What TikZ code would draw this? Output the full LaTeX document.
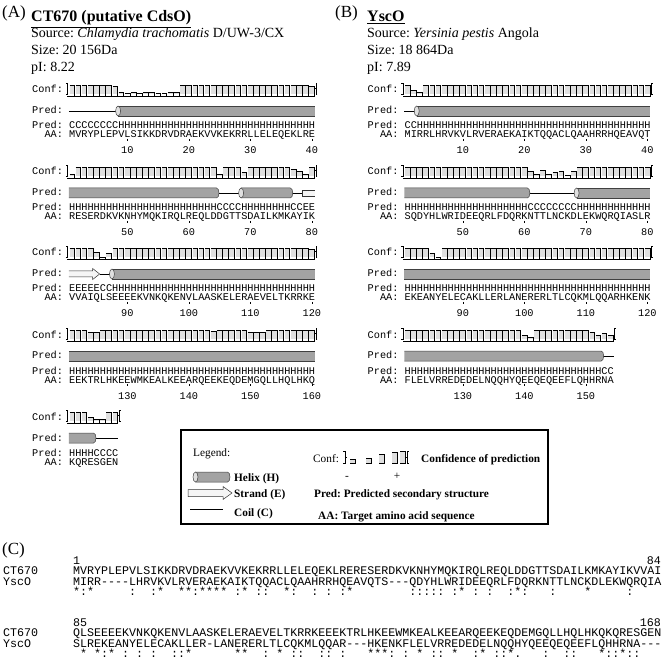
\documentclass[tikz,border=0pt]{standalone}
\usepackage{fontspec}
\setmainfont{Liberation Serif}
\setmonofont{Liberation Mono}
\usetikzlibrary{positioning}

\newcommand\seqfont{\ttfamily\fontsize{10.25}{12}\selectfont}
\newcommand\alnfont{\ttfamily\fontsize{11.67}{13}\selectfont}
\def\cw{6.15}
\newcommand\rep[2]{\foreach\repi in {1,...,#1}{#2}}

% helix as a cylinder: x from, x to, y, left cap (0/1), rounded right end (0/1)
\newcommand\cylinder[5]{%
  \ifnum#5=1
    \fill[helixbody] (#1,#3-5) -- (#2,#3-5) arc[start angle=90,end angle=-90,x radius=2.5pt,y radius=5pt] -- (#1,#3+5) -- cycle;
    \draw[helixedge] (#1,#3-5) -- (#2,#3-5) arc[start angle=90,end angle=-90,x radius=2.5pt,y radius=5pt] -- (#1,#3+5);
  \else
    \fill[helixbody] (#1,#3-5) rectangle (#2,#3+5);
    \draw[helixedge] (#1,#3-5) -- (#2,#3-5) (#1,#3+5) -- (#2,#3+5);
  \fi
  \ifnum#4=1 \filldraw[helixcap] (#1,#3) ellipse[x radius=2.5pt,y radius=5pt];\fi}

% pieces along the prediction line \gy of a block that starts at \bx (residue units)
\newcommand\helix[2]{%
  \pgfmathsetmacro\xa{\bx+(#1-1)*\cw}\pgfmathsetmacro\xb{\bx+#2*\cw}%
  \pgfmathtruncatemacro\hcap{#1>1}\pgfmathtruncatemacro\hend{#2<40}%
  \cylinder{\xa}{\xb}{\gy}{\hcap}{\hend}}
\newcommand\coil[2]{\draw[coilline] (\bx+#1*\cw-\cw,\gy) -- (\bx+#2*\cw,\gy);}
\newcommand\strandin[2]{%
  \pgfmathsetmacro\xa{\bx+(#1-1)*\cw}\pgfmathsetmacro\xb{\bx+#2*\cw}%
  \filldraw[strandbody] (\xa,\gy-3) -- (\xb-7,\gy-3) -- (\xb-7,\gy-5.5) -- (\xb,\gy) -- (\xb-7,\gy+5.5) -- (\xb-7,\gy+3) -- (\xa,\gy+3);}
\newcommand\strandout[2]{%
  \pgfmathsetmacro\xa{\bx+(#1-1)*\cw}\pgfmathsetmacro\xb{\bx+#2*\cw}%
  \filldraw[strandbody] (\xb,\gy-3) -- (\xa,\gy-3) -- (\xa,\gy+3) -- (\xb,\gy+3);}

% one confidence bar: left x, bottom y, width, height
\newcommand\confbar[4]{%
  \fill[confbarfill] (#1,#2) rectangle ++(#3,-#4);
  \draw[confbaredge] (#1,#2-#4) -- ++(#3,0) -- ++(0,#4) -- ++(-#3,0);}

% confidence bars, one digit per residue
\newcount\confpos
\def\confloop#1{\ifx\relax#1\else
  \global\advance\confpos by 1
  \confbar{\bx+\the\confpos*\cw-\cw+0.6}{\cy}{\cw-1.2}{1.1*#1+1.1}%
  \expandafter\confloop\fi}
\newcommand\confbars[1]{%
  \global\confpos=0
  \confloop#1\relax
  \draw[confmark] (\bx-3,\cy) -- (\bx-1.5,\cy) -- (\bx-1.5,\cy-11) -- (\bx-3,\cy-11) (\bx-1.5,\cy-5.5) -- (\bx-0.5,\cy-5.5);
  \pgfmathsetmacro\xe{\bx+\the\confpos*\cw}%
  \draw[confmark] (\xe+2.5,\cy) -- (\xe+1,\cy) -- (\xe+1,\cy-11) -- (\xe+2.5,\cy-11) (\xe+1,\cy-5.5) -- (\xe+0.2,\cy-5.5);}

% one block: name, label x, AA row y, confidence, prediction, sequence, pieces
\newcommand\seqblock[7]{%
  \pgfmathsetmacro\bx{#2+6*\cw}%
  \pgfmathsetmacro\gy{#3-24}%
  \pgfmathsetmacro\cy{#3-41}%
  \node[seqtext] (#1conf) at (#2,#3-42) {Conf:};
  \confbars{#4}%
  \node[seqtext] (#1lbl) at (#2,#3-21) {Pred:};
  #7%
  \node[seqtext] (#1pred) at (#2,#3-6) {Pred: #5};
  \node[seqtext] (#1aa) at (#2,#3+3) {~~AA: #6};}

% ruler below a block: name, label x, AA row y, offset, numbers
\newcommand\blocknums[5]{%
  \pgfmathsetmacro\bx{#2+6*\cw}%
  \foreach \resno in {#5}{%
    \pgfmathsetmacro\tx{\bx+(\resno-#4-0.5)*\cw}%
    \draw[tickmark] (\tx,#3+4) -- (\tx,#3+6);
    \node[seqtext, anchor=base] (#1n\resno) at (\tx,#3+19) {\resno};
  }}

\begin{document}
\frenchspacing
\begin{tikzpicture}[
        x=1pt, y=-1pt,
        seqtext/.style={font=\seqfont, inner sep=0pt, anchor=base west},
        alntext/.style={font=\alnfont, inner sep=0pt, anchor=base west},
        tagtext/.style={font=\fontsize{17}{20}\selectfont, inner sep=0pt, anchor=base west},
        titletext/.style={font=\fontsize{16}{19}\selectfont\bfseries, inner sep=0pt, anchor=base west},
        headtext/.style={font=\fontsize{14}{17}\selectfont, inner sep=0pt, anchor=base west},
        legnorm/.style={font=\fontsize{11.3}{13}\selectfont, inner sep=0pt, anchor=base west},
        legtext/.style={font=\fontsize{11.3}{13}\selectfont\bfseries, inner sep=0pt, anchor=base west},
        confbarfill/.style={fill=gray!25},
        confbaredge/.style={draw=black, line width=0.55pt},
        confmark/.style={draw=black, line width=0.5pt},
        helixbody/.style={fill=black!36},
        helixedge/.style={draw=black!75, line width=0.5pt},
        helixcap/.style={fill=black!12, draw=black!75, line width=0.5pt},
        coilline/.style={draw=black, line width=0.6pt},
        strandbody/.style={fill=gray!8, draw=black!80, line width=0.5pt},
        tickmark/.style={draw=black, line width=0.6pt},
        legendbox/.style={draw=black, line width=1.2pt},
    ]
        \useasboundingbox (0,0) rectangle (664,660);

        % Panel A header
        \node[tagtext] (tagA) at (2,18) {(A)};
        \node[titletext] (titleA) at (31,22) {\underline{CT670 (putative CdsO)}};
        \node[headtext] (srcA) at (31,38) {Source: \textit{Chlamydia trachomatis} D/UW-3/CX};
        \node[headtext] (sizeA) at (31,55) {Size: 20 156Da};
        \node[headtext] (piA) at (31,72) {pI: 8.22};

        % Panel A blocks
        \seqblock{A1}{32}{135}{99999998 3232332233 9999999999 9999999999 98}{\rep{8}{C}\rep{32}{H}}{MVRYPLEPVLSIKKDRVDRAEKVVKEKRRLLELEQEKLRE}{\coil{1}{8}\helix{9}{40}}
        \blocknums{A1}{32}{135}{0}{10,20,30,40}
        \seqblock{A2}{32}{217}{3 9999999999 9999999999 999 3 999 4 9999999 753 9}{\rep{24}{H}\rep{4}{C}\rep{8}{H}CCEE}{RESERDKVKNHYMQKIRQLREQLDDGTTSDAILKMKAYIK}{\coil{25}{28}\coil{37}{38}\helix{1}{24}\helix{29}{36}\strandout{39}{40}}
        \blocknums{A2}{32}{217}{40}{50,60,70,80}
        \seqblock{A3}{32}{298}{9999 5 1 4 9999999999 9999999999 9999999999 998}{EEEEECC\rep{33}{H}}{VVAIQLSEEEEKVNKQKENVLAASKELERAEVELTKRRKE}{\coil{6}{7}\strandin{1}{5}\helix{8}{40}}
        \blocknums{A3}{32}{298}{80}{90,100,110,120}
        \seqblock{A4}{32}{380}{99977 9999999999 99999999 8 99999 777 99999999}{\rep{40}{H}}{EEKTRLHKEEWMKEALKEEARQEEKEQDEMGQLLHQLHKQ}{\helix{1}{40}}
        \blocknums{A4}{32}{380}{120}{130,140,150,160}
        \seqblock{A5}{32}{462}{99943399}{HHHHCCCC}{KQRESGEN}{\coil{5}{8}\helix{1}{4}}

        % Panel B header
        \node[tagtext] (tagB) at (335,18) {(B)};
        \node[titletext] (titleB) at (367,22) {\underline{YscO}};
        \node[headtext] (srcB) at (367,38) {Source: \textit{Yersinia pestis} Angola};
        \node[headtext] (sizeB) at (367,55) {Size: 18 864Da};
        \node[headtext] (piB) at (367,72) {pI: 7.89};

        % Panel B blocks
        \seqblock{B1}{367.5}{135}{9 43 9999999999 9999999999 9999999999 9999999}{CC\rep{38}{H}}{MIRRLHRVKVLRVERAEKAIKTQQACLQAAHRRHQEAVQT}{\coil{1}{2}\helix{3}{40}}
        \blocknums{B1}{367.5}{135}{0}{10,20,30,40}
        \seqblock{B2}{367.5}{217}{9999999999 9999999999 53634525 9999999999 99}{\rep{20}{H}\rep{8}{C}\rep{12}{H}}{SQDYHLWRIDEEQRLFDQRKNTTLNCKDLEKWQRQIASLR}{\coil{21}{28}\helix{1}{20}\helix{29}{40}}
        \blocknums{B2}{367.5}{217}{40}{50,60,70,80}
        \seqblock{B3}{367.5}{298}{9999 4 1 9999999999 9999999999 9999999999 9999}{\rep{40}{H}}{EKEANYELECAKLLERLANERERLTLCQKMLQQARHKENK}{\helix{1}{40}}
        \blocknums{B3}{367.5}{298}{80}{90,100,110,120}
        \seqblock{B4}{367.5}{380}{9999999999 999999999 43 999999999 7464}{\rep{32}{H}CC}{FLELVRREDEDELNQQHYQEEQEQEEFLQHHRNA}{\coil{33}{34}\helix{1}{32}}
        \blocknums{B4}{367.5}{380}{120}{130,140,150}

        % Legend
        \draw[legendbox] (181,430) rectangle (548,524);
        \node[legnorm] (legtitle) at (193,456) {Legend:};
        \node[legnorm] (legconf) at (313,462) {Conf:};
        \foreach \x/\h in {350/4,366/5,379/9,392/11,400/12}
            \confbar{\x}{463}{5}{\h}
        \draw[confmark] (343,463) -- (345.5,463) -- (345.5,451) -- (343,451) (345.5,457) -- (347,457);
        \draw[confmark] (409,463) -- (407,463) -- (407,451) -- (409,451) (407,457) -- (406,457);
        \node[legtext] (legconfd) at (421,462) {Confidence of prediction};
        \node[legnorm, anchor=base] (legminus) at (347,479) {-};
        \node[legnorm, anchor=base] (legplus) at (397,479) {+};
        \cylinder{195.5}{227.5}{477}{1}{1}
        \node[legtext] (leghelix) at (234,481) {Helix (H)};
        \filldraw[strandbody] (188,489.5) -- (223,489.5) -- (223,486.5) -- (232,493) -- (223,499.5) -- (223,496.5) -- (188,496.5) -- cycle;
        \node[legtext] (legstrand) at (234,497) {Strand (E)};
        \draw[coilline] (190,509) -- (223,509);
        \node[legtext] (legcoil) at (234,516) {Coil (C)};
        \node[legtext] (legpred) at (314,497) {Pred: Predicted secondary structure};
        \node[legtext] (legaa) at (318,519) {AA: Target amino acid sequence};

        % Panel C alignment
        \node[tagtext] (tagC) at (2,554) {(C)};
        \node[alntext] (c1from) at (73,564) {1};
        \node[alntext, anchor=base east] (c1to) at (661,564) {84};
        \node[alntext] (c1ct) at (3,574.5) {CT670~~~~~MVRYPLEPVLSIKKDRVDRAEKVVKEKRRLLELEQEKLRERESERDKVKNHYMQKIRQLREQLDDGTTSDAILKMKAYIKVVAI};
        \node[alntext] (c1ys) at (3,585) {YscO~~~~~~MIRR----LHRVKVLRVERAEKAIKTQQACLQAAHRRHQEAVQTS---QDYHLWRIDEEQRLFDQRKNTTLNCKDLEKWQRQIA};
        \node[alntext] (c1cons) at (73,595.5) {*:*~~~~~:~~:*~~**:****~:*~::~~*:~~:~:~:*~~~~~~~~:::::~:*~:~:~~:*:~~~:~~~~*~~~~~:};
        \node[alntext] (c2from) at (73,626) {85};
        \node[alntext, anchor=base east] (c2to) at (661,626) {168};
        \node[alntext] (c2ct) at (3,636.5) {CT670~~~~~QLSEEEEKVNKQKENVLAASKELERAEVELTKRRKEEEKTRLHKEEWMKEALKEEARQEEKEQDEMGQLLHQLHKQKQRESGEN};
        \node[alntext] (c2ys) at (3,647) {YscO~~~~~~SLREKEANYELECAKLLER-LANERERLTLCQKMLQQAR---HKENKFLELVRREDEDELNQQHYQEEQEQEEFLQHHRNA---};
        \node[alntext] (c2cons) at (73,657.5) {~*~*:*~:~:~:~~::*~~~~~~**~~:~*~::~~::~:~~~***:~:~*~::~*~~:*~::*.~~~:~~::~~~*::*::};
    \end{tikzpicture}
\end{document}
